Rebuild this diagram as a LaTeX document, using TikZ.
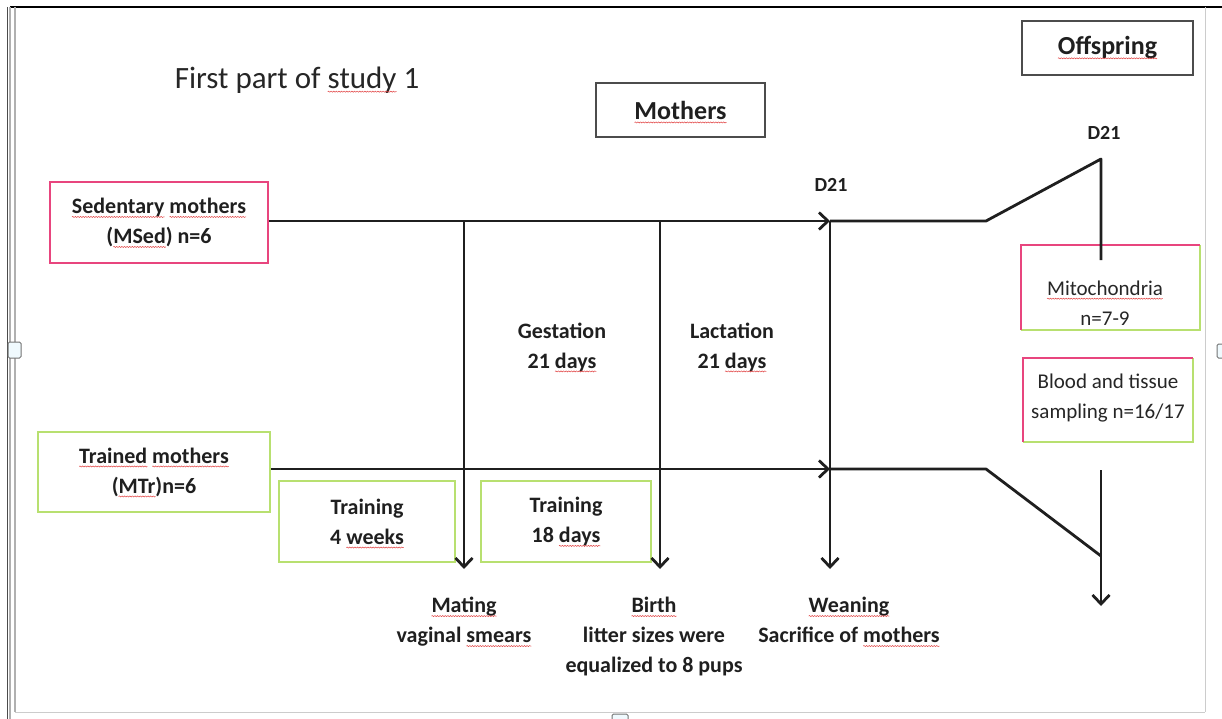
\documentclass[tikz,border=0pt]{standalone}
\usepackage{fontspec}
\setmainfont{Carlito}
\usetikzlibrary{arrows.meta,decorations.pathmorphing}
\definecolor{pinkb}{HTML}{E8457E}
\definecolor{greenb}{HTML}{B8E070}
\definecolor{framegrey}{HTML}{B0B0B0}
\definecolor{squigred}{HTML}{E04040}
\newsavebox\sqbox
\newcommand\sq[1]{\sbox\sqbox{#1}\usebox\sqbox\tikz[overlay, baseline=0pt]{\draw[squigred, line width=0.5pt, decorate, decoration={snake, amplitude=0.55pt, segment length=2.6pt}] (-\wd\sqbox,-3.4pt) -- (0pt,-3.4pt);}}
\tikzset{
  bt/.style={font=\fontsize{22}{30}\selectfont\bfseries, align=center, text=black!88},
  nt/.style={font=\fontsize{21}{30}\selectfont, align=center, text=black!85},
  pinkbox/.style={draw=pinkb, line width=2.2pt, inner sep=0pt},
  greenbox/.style={draw=greenb, line width=2.2pt, inner sep=0pt},
  greybox/.style={draw=black!70, line width=1.6pt, inner sep=0pt},
  tl/.style={draw=black!88, line width=2.8pt},
  arr/.style={tl, -{Straight Barb[length=9pt,width=17pt,line width=2.8pt]}},
  lbl/.style={inner sep=0pt},
  handle/.style={draw=black!55, fill=cyan!6, line width=1pt, rounded corners=1.5pt}
}
\begin{document}
\begin{tikzpicture}[x=1pt,y=-1pt]
\useasboundingbox (0,0) rectangle (1222,719);
% frame
\draw[black, line width=2.5pt] (10,7) -- (1222,7);
\draw[black!70, line width=1pt] (7,7) -- (7,719);
\draw[framegrey, line width=1.2pt] (10,7) -- (10,719);
\draw[framegrey, line width=1.2pt] (15,7) -- (15,712);
\draw[black!20, line width=1pt] (1205,7) -- (1205,712);
\draw[black!20, line width=1pt] (15,712) -- (1205,712);
\draw[handle] (8,342) rectangle (21,358);
\draw[handle] (1217,344) rectangle (1224,358);
\draw[handle] (612,714) rectangle (628,722);

% title
\node[lbl, nt, font=\fontsize{31}{34}\selectfont] (title) at (297,80) {First part of \sq{study} 1};
% header boxes
\node[greybox, bt, minimum width=169pt, minimum height=54pt, font=\fontsize{26}{30}\selectfont\bfseries] (moth) at (680.5,110) {\sq{Mothers}};
\node[greybox, bt, minimum width=171pt, minimum height=54pt, font=\fontsize{26}{30}\selectfont\bfseries] (offs) at (1107.5,48) {\sq{Offspring}};

% group boxes
\node[pinkbox, bt, minimum width=218pt, minimum height=81pt] (sed) at (159,222.5) {\sq{Sedentary} \sq{mothers}\\(\sq{MSed}) n=6};
\node[greenbox, bt, minimum width=232pt, minimum height=80pt] (tr) at (154,472) {\sq{Trained} \sq{mothers}\\(\sq{MTr})n=6};
\node[greenbox, bt, minimum width=176pt, minimum height=81pt] (tr4) at (367,521.5) {Training\\4 \sq{weeks}};
\node[greenbox, bt, minimum width=170pt, minimum height=81pt] (tr18) at (566,521.5) {Training\\18 \sq{days}};

% offspring boxes
\node[minimum width=179pt, minimum height=85pt, inner sep=0pt] (mito) at (1110.5,287.5) {};
\draw[greenb, line width=2.2pt] (mito.north east) -- (mito.south east) -- (mito.south west);
\draw[pinkb, line width=2.2pt] (mito.south west) -- (mito.north west) -- (mito.north east);
\node[lbl, nt] (mitot) at (1105,303) {\sq{Mitochondria}\\n=7-9};
\node[minimum width=170pt, minimum height=84pt, inner sep=0pt] (blood) at (1108,400) {};
\draw[greenb, line width=2.2pt] (blood.north east) -- (blood.south east) -- (blood.south west);
\draw[pinkb, line width=2.2pt] (blood.south west) -- (blood.north west) -- (blood.north east);
\node[lbl, nt] (bloodt) at (1108,398) {Blood and tissue\\sampling n=16/17};

% coordinates on timelines
\coordinate (s1) at (464,221);
\coordinate (s2) at (660,221);
\coordinate (s3) at (830,221);
\coordinate (sbend) at (986,221);
\coordinate (stop) at (1101,159);
\coordinate (mitoin) at (1101,260);
\coordinate (b3) at (830,469);
\coordinate (bbend) at (986,469);
\coordinate (bbot) at (1101,556);
\coordinate (btop) at (1101,470);
\coordinate (bend) at (1101,606);

% timelines
\draw[arr] (sed.east |- s1) -- (s3);
\draw[tl, line join=round] (s3) -- (sbend) -- (stop) -- (mitoin);
\draw[arr] (tr.east |- b3) -- (b3);
\draw[tl, line join=round] (b3) -- (bbend) -- (bbot);
\draw[arr] (btop) -- (bend);

% vertical event arrows
\coordinate (e1) at (464,569);
\coordinate (e2) at (660,569);
\coordinate (e3) at (830,569);
\draw[arr] (s1) -- (e1);
\draw[arr] (s2) -- (e2);
\draw[arr] (s3) -- (e3);

% labels
\node[lbl, bt, font=\fontsize{20}{24}\selectfont\bfseries] (d21a) at (831,185) {D21};
\node[lbl, bt, font=\fontsize{20}{24}\selectfont\bfseries] (d21b) at (1104,133) {D21};
\node[lbl, bt] (gest) at (562,347) {Gestation\\21 \sq{days}};
\node[lbl, bt] (lact) at (732,347) {Lactation\\21 \sq{days}};
\node[lbl, bt, anchor=north] (mat) at (464,597) {\sq{Mating}\\vaginal \sq{smears}};
\node[lbl, bt, anchor=north] (birth) at (654,597) {\sq{Birth}\\litter sizes were\\equalized to 8 pups};
\node[lbl, bt, anchor=north] (wean) at (849,597) {\sq{Weaning}\\Sacrifice of \sq{mothers}};
\end{tikzpicture}
\end{document}
